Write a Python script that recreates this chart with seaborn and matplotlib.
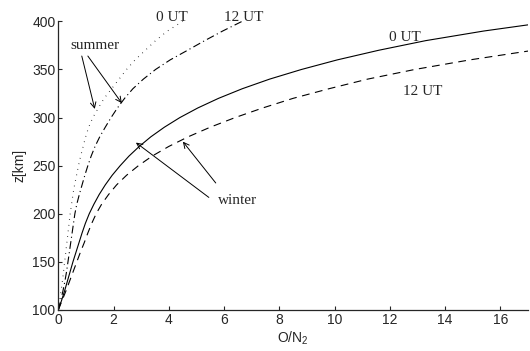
import matplotlib
matplotlib.use("Agg")
import matplotlib.pyplot as plt
import seaborn as sns

# altitude grid [km] and O/N2 ratio
z_km = [100, 110, 120, 130, 140, 150, 160, 170, 180, 190, 200,
        210, 220, 230, 240, 250, 260, 270, 280, 290, 300,
        310, 320, 330, 340, 350, 360, 370, 380, 390, 400]
summer_0ut = [0, 0.05, 0.10, 0.15, 0.19, 0.23, 0.27, 0.31, 0.35, 0.39, 0.43,
              0.48, 0.53, 0.59, 0.66, 0.73, 0.81, 0.9, 0.99, 1.1, 1.25,
              1.45, 1.66, 1.93, 2.2, 2.47, 2.78, 3.15, 3.52, 3.95, 4.5]
summer_12ut = [0, 0.09, 0.17, 0.24, 0.30, 0.35, 0.40, 0.45, 0.50, 0.55, 0.6,
               0.67, 0.76, 0.86, 0.96, 1.07, 1.19, 1.33, 1.5, 1.7, 1.91,
               2.14, 2.4, 2.7, 3.08, 3.52, 4.05, 4.68, 5.3, 5.95, 6.65]
winter_0ut = [0, 0.12, 0.23, 0.33, 0.43, 0.53, 0.64, 0.75, 0.86, 0.98, 1.12,
              1.29, 1.48, 1.70, 1.95, 2.24, 2.56, 2.93, 3.35, 3.84, 4.4,
              5.05, 5.8, 6.66, 7.65, 8.8, 10.1, 11.6, 13.3, 15.4, 17.9]
winter_12ut = [0, 0.14, 0.28, 0.41, 0.54, 0.67, 0.80, 0.94, 1.07, 1.21, 1.37,
               1.57, 1.82, 2.11, 2.47, 2.9, 3.4, 4.0, 4.7, 5.5, 6.4,
               7.4, 8.5, 9.8, 11.2, 12.9, 14.9, 17.2, 19.8, 22.8, 26.2]

xticks = [0, 2, 4, 6, 8, 10, 12, 14, 16]
yticks = [100, 150, 200, 250, 300, 350, 400]

sns.set_style("ticks")
plt.rcParams["font.family"] = ["Liberation Sans", "DejaVu Sans"]
plt.rcParams["mathtext.fontset"] = "custom"
plt.rcParams["mathtext.rm"] = "Liberation Sans"
plt.rcParams["mathtext.it"] = "Liberation Sans"
plt.rcParams["xtick.direction"] = "in"
plt.rcParams["ytick.direction"] = "in"

fig = plt.figure(figsize=(5.3, 3.51), dpi=100)
ax = fig.add_axes([0.110, 0.117, 0.886, 0.822])

lw = 0.8
sns.lineplot(x=summer_0ut, y=z_km, sort=False, estimator=None, ax=ax,
             color="black", lw=lw, linestyle=(0, (0.6, 4.5)))
sns.lineplot(x=summer_12ut, y=z_km, sort=False, estimator=None, ax=ax,
             color="black", lw=lw, linestyle=(0, (7, 3, 1, 3)))
sns.lineplot(x=winter_0ut, y=z_km, sort=False, estimator=None, ax=ax,
             color="black", lw=lw, linestyle="-")
sns.lineplot(x=winter_12ut, y=z_km, sort=False, estimator=None, ax=ax,
             color="black", lw=lw, linestyle=(0, (7, 5)))

ax.set_xlim(0, 17)
ax.set_ylim(100, 400)
ax.set_xticks(xticks)
ax.set_yticks(yticks)
ax.tick_params(labelsize=10, length=3, width=0.8, pad=2)
for s in ["left", "bottom"]:
    ax.spines[s].set_linewidth(0.9)
sns.despine(ax=ax)
ax.set_xlabel("O/N$_2$", fontsize=10, labelpad=2)
ax.set_ylabel("z[km]", fontsize=10, labelpad=4)

serif = dict(family=["Liberation Serif", "DejaVu Serif"], fontsize=11)
ax.text(4.1, 404, "0 UT", ha="center", va="center", **serif)
ax.text(6.7, 404, "12 UT", ha="center", va="center", **serif)
ax.text(12.55, 383, "0 UT", ha="center", va="center", **serif)
ax.text(13.2, 327, "12 UT", ha="center", va="center", **serif)

arrow = dict(arrowstyle="->", color="black", lw=0.7,
             shrinkA=0, shrinkB=0, mutation_scale=10)
ax.text(1.32, 375, "summer", ha="center", va="center", **serif)
ax.annotate("", xy=(1.32, 309), xytext=(0.85, 364), arrowprops=arrow)
ax.annotate("", xy=(2.3, 315), xytext=(1.07, 364), arrowprops=arrow)
ax.text(6.5, 214, "winter", ha="center", va="center", **serif)
ax.annotate("", xy=(2.81, 274), xytext=(5.45, 217), arrowprops=arrow)
ax.annotate("", xy=(4.51, 275), xytext=(5.7, 232), arrowprops=arrow)

fig.savefig("out.png", dpi=100)
